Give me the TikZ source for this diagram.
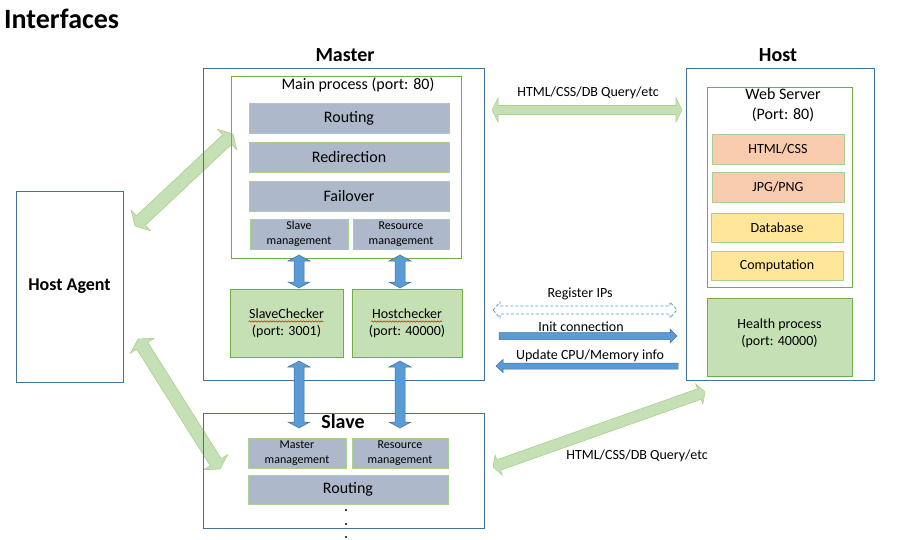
\documentclass[tikz,border=0pt]{standalone}
\usepackage{fontspec}
\setmainfont{Carlito}
\usetikzlibrary{calc,decorations.pathmorphing}
\definecolor{boxblue}{HTML}{41719C}
\definecolor{grnline}{HTML}{70AD47}
\definecolor{ltgrn}{HTML}{A9D18E}
\definecolor{grayfill}{HTML}{ADB9CA}
\definecolor{chkfill}{HTML}{C5E0B4}
\definecolor{orfill}{HTML}{F8CBAD}
\definecolor{yelfill}{HTML}{FFE699}
\definecolor{arrblue}{HTML}{5B9BD5}
\definecolor{fatfill}{HTML}{C5E0B4}
\definecolor{fatline}{HTML}{A9D18E}
% #1 style, #2 from, #3 to, #4 half shaft, #5 half head, #6 head length
\newcommand\fatdbl[6]{%
  \coordinate (fatP) at ($(#2)!#6!(#3)$);
  \coordinate (fatQ) at ($(#3)!#6!(#2)$);
  \draw[#1] (#2) -- ($(fatP)!#5!90:(#3)$) -- ($(fatP)!#4!90:(#3)$)
    -- ($(fatQ)!#4!-90:(#2)$) -- ($(fatQ)!#5!-90:(#2)$) -- (#3)
    -- ($(fatQ)!#5!90:(#2)$) -- ($(fatQ)!#4!90:(#2)$)
    -- ($(fatP)!#4!-90:(#3)$) -- ($(fatP)!#5!-90:(#3)$) -- cycle;}
\newcommand\fatsgl[6]{%
  \coordinate (fatQ) at ($(#3)!#6!(#2)$);
  \draw[#1] ($(#2)!#4!90:(#3)$) -- ($(fatQ)!#4!-90:(#2)$)
    -- ($(fatQ)!#5!-90:(#2)$) -- (#3)
    -- ($(fatQ)!#5!90:(#2)$) -- ($(fatQ)!#4!90:(#2)$)
    -- ($(#2)!#4!-90:(#3)$) -- cycle;}
\begin{document}
\begin{tikzpicture}[x=1pt,y=-1pt,
  box/.style={inner sep=0pt, outer sep=0pt, line width=0.8pt, align=center},
  bluebox/.style={box, draw=boxblue},
  cont/.style={box, draw=grnline},
  graybx/.style={box, draw=ltgrn, fill=grayfill},
  chk/.style={box, draw=grnline, fill=chkfill},
  orbx/.style={box, draw=ltgrn, fill=orfill},
  yebx/.style={box, draw=ltgrn, fill=yelfill},
  fatgreen/.style={fill=fatfill, draw=fatline, line width=0.6pt, line join=miter},
  fatblue/.style={fill=arrblue, draw=boxblue, line width=0.5pt, line join=miter},
  fatdash/.style={fill=white, draw=arrblue, dash pattern=on 3pt off 2pt, line width=0.8pt},
  squig/.style={draw=red, line width=0.5pt, decorate, decoration={snake, segment length=3pt, amplitude=0.7pt}},
  fxvi/.style={font=\fontsize{16}{20}\selectfont},
  fxiv/.style={font=\fontsize{14}{17}\selectfont},
  fxii/.style={font=\fontsize{12}{15}\selectfont},
  ttl/.style={font=\fontsize{20}{24}\selectfont\bfseries},
]
\useasboundingbox (0,0) rectangle (899,540);

% title
\node[anchor=west, font=\fontsize{28}{32}\selectfont\bfseries, inner sep=0pt] (title) at (4,19) {Interfaces};

% arrow end points
\coordinate (a1s) at (135,226);  \coordinate (a1e) at (233,134);
\coordinate (a2s) at (138,339);  \coordinate (a2e) at (220,469);
\coordinate (a3s) at (493,467);  \coordinate (a3e) at (705,392);
\coordinate (hts) at (492,110);  \coordinate (hte) at (682,110);
\coordinate (rgs) at (493,310);  \coordinate (rge) at (677,310);
\coordinate (ics) at (499,336);  \coordinate (ice) at (677,336);
\coordinate (ups) at (678,366);  \coordinate (upe) at (496,366);
\coordinate (v1s) at (299,255);  \coordinate (v1e) at (299,288);
\coordinate (v2s) at (400,255);  \coordinate (v2e) at (400,288);
\coordinate (v3s) at (299,361);  \coordinate (v3e) at (299,428);
\coordinate (v4s) at (400,361);  \coordinate (v4e) at (400,428);

% green fat arrows (below boxes)
\fatdbl{fatgreen}{a1s}{a1e}{6.5pt}{14pt}{8pt}
\fatdbl{fatgreen}{a2s}{a2e}{6.5pt}{14pt}{8pt}
\fatdbl{fatgreen}{a3s}{a3e}{5.5pt}{10.5pt}{6pt}
\fatdbl{fatgreen}{hts}{hte}{4.5pt}{12pt}{6pt}

% Host agent
\node[bluebox, minimum width=107pt, minimum height=191pt, font=\fontsize{18}{22}\selectfont\bfseries] (agent) at (69.5,286.5) {Host Agent};

% Master
\node[bluebox, minimum width=281pt, minimum height=312pt] (master) at (343.5,224) {};
\node[ttl] (mastert) at (345,55) {Master};
\node[cont, minimum width=230pt, minimum height=182pt] (mainp) at (346.5,167) {};
\node[fxvi, inner sep=0pt] (mainlbl) at (358,85) {Main process (port: 80)};
\node[graybx, fxvi, minimum width=200pt, minimum height=30pt] (routing) at (349,118) {Routing};
\node[graybx, fxvi, minimum width=200pt, minimum height=30pt] (redir) at (349,157) {Redirection};
\node[graybx, fxvi, minimum width=200pt, minimum height=30pt] (failover) at (349,196) {Failover};
\node[graybx, fxii, minimum width=98pt, minimum height=30pt] (slvmgmt) at (299,234) {Slave\\management};
\node[graybx, fxii, minimum width=96pt, minimum height=30pt] (resmgmt) at (401,234) {Resource\\management};
\node[chk, fxiv, minimum width=113pt, minimum height=68pt] (slavechk) at (286.5,323) {SlaveChecker\\(port: 3001)};
\node[chk, fxiv, minimum width=110pt, minimum height=68pt] (hostchk) at (407,323) {Hostchecker\\(port: 40000)};
\draw[squig] ($(slavechk.center)+(-38,-1.5)$) -- ($(slavechk.center)+(37,-1.5)$);
\draw[squig] ($(hostchk.center)+(-36,-1.5)$) -- ($(hostchk.center)+(35,-1.5)$);

% Slave
\node[bluebox, minimum width=281pt, minimum height=115pt] (slave) at (343.5,470.5) {};
\node[graybx, fxii, minimum width=98pt, minimum height=30pt] (mstmgmt) at (297,453) {Master\\management};
\node[graybx, fxii, minimum width=96pt, minimum height=30pt] (sresmgmt) at (400,453) {Resource\\management};
\node[graybx, fxvi, minimum width=200pt, minimum height=29pt] (srouting) at (348,489.5) {Routing};
\fill (346,510) circle (1.1pt);
\fill (346,524) circle (1.1pt);
\fill (346,537) circle (1.1pt);

% blue vertical arrows
\fatdbl{fatblue}{v1s}{v1e}{5pt}{11pt}{6pt}
\fatdbl{fatblue}{v2s}{v2e}{5pt}{11pt}{6pt}
\fatdbl{fatblue}{v3s}{v3e}{5pt}{11pt}{6pt}
\fatdbl{fatblue}{v4s}{v4e}{5pt}{11pt}{6pt}
\node[ttl] (slavet) at (343,422) {Slave};

% Host
\node[bluebox, minimum width=188pt, minimum height=312pt] (host) at (780,224) {};
\node[ttl] (hostt) at (778,55) {Host};
\node[cont, minimum width=145pt, minimum height=200pt] (websrv) at (779.5,187) {};
\node[fxvi, align=center, inner sep=0pt] (weblbl) at (783,105) {Web Server\\(Port: 80)};
\node[orbx, fxiv, minimum width=132pt, minimum height=30pt] (html) at (778,149) {HTML/CSS};
\node[orbx, fxiv, minimum width=132pt, minimum height=30pt] (jpg) at (778,187) {JPG/PNG};
\node[yebx, fxiv, minimum width=132pt, minimum height=29pt] (db) at (777,227.5) {Database};
\node[yebx, fxiv, minimum width=132pt, minimum height=29pt] (comp) at (777,265.5) {Computation};
\node[chk, minimum width=145pt, minimum height=78pt] (health) at (779.5,337) {};
\node[fxiv, align=center, inner sep=0pt] (healthlbl) at (779.5,333.5) {Health process\\(port: 40000)};

% horizontal arrows
\fatdbl{fatdash}{rgs}{rge}{4pt}{8pt}{7pt}
\fatsgl{fatblue}{ics}{ice}{3.5pt}{7pt}{7pt}
\fatsgl{fatblue}{ups}{upe}{3pt}{6.5pt}{7pt}

% arrow labels
\node[fxiv, inner sep=0pt] (lbltop) at (588,93) {HTML/CSS/DB Query/etc};
\node[fxiv, inner sep=0pt] (lblreg) at (580,294) {Register IPs};
\node[fxiv, inner sep=0pt] (lblinit) at (581,327) {Init connection};
\node[fxiv, inner sep=0pt] (lblupd) at (590,356) {Update CPU/Memory info};
\node[fxiv, inner sep=0pt] (lblbot) at (637,456) {HTML/CSS/DB Query/etc};
\end{tikzpicture}
\end{document}
